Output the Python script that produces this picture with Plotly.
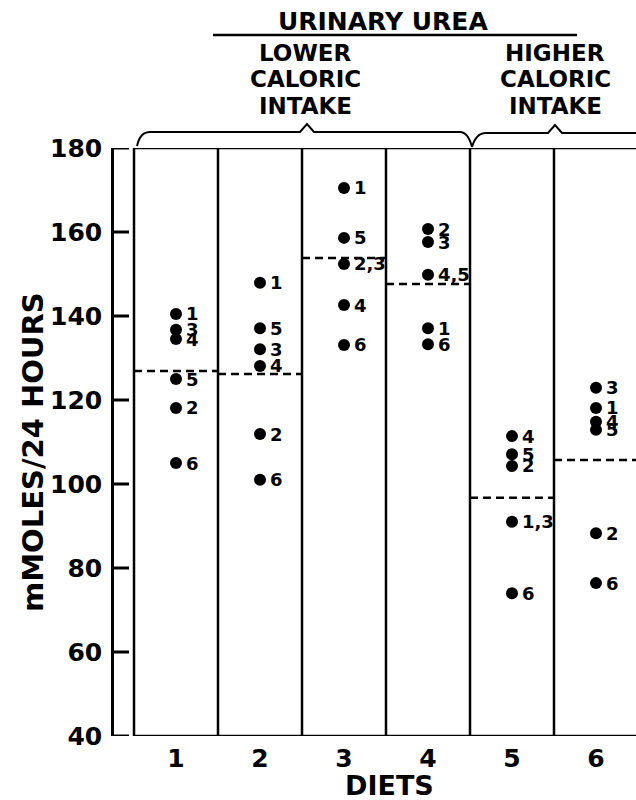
import plotly.graph_objects as go

# ---- data ----
diets = [1, 2, 3, 4, 5, 6]
subjects = ["1", "2", "3", "4", "5", "6"]
# urinary urea, mmoles/24 h, per diet, for subjects 1..6
diet1 = [140.5, 118.1, 136.7, 134.5, 125.0, 105.0]
diet2 = [147.9, 111.9, 132.1, 128.1, 137.1, 101.0]
diet3 = [170.5, 152.4, 152.4, 142.6, 158.6, 133.1]
diet4 = [137.1, 160.7, 157.6, 149.8, 149.8, 133.3]
diet5 = [91.0, 104.3, 91.0, 111.4, 107.1, 74.0]
diet6 = [118.1, 88.3, 122.9, 114.8, 112.9, 76.4]
diet_means = [126.9, 126.2, 153.8, 147.6, 96.7, 105.7]
y_ticks = [40, 60, 80, 100, 120, 140, 160, 180]
title = "URINARY UREA"
group_labels = ["LOWER", "CALORIC", "INTAKE"]
group_labels2 = ["HIGHER", "CALORIC", "INTAKE"]
y_title = "mMOLES/24 HOURS"
x_title = "DIETS"

all_diets = [diet1, diet2, diet3, diet4, diet5, diet6]

# ---- layout geometry ----
W, H = 636, 800
ML, MR, MT, MB = 114, 0, 148, 64
PW, PH = W - ML - MR, H - MT - MB
PXU = 84.0                      # pixels per diet unit
X0 = 0.5 - 20 / PXU
X1 = X0 + PW / PXU
FONT = "DejaVu Sans"


def F(size):
    return dict(family=FONT, size=size, color="black", weight="bold")


def pxx(x):
    return (x - ML) / PW


def pxy(y):
    return (MT + PH - y) / PH


fig = go.Figure()

# y-axis tick marks pointing inward from the axis line
tx, ty = [], []
for t in y_ticks:
    tx += [X0, X0 + 15 / PXU, None]
    ty += [t, t, None]
fig.add_trace(go.Scatter(x=tx, y=ty, mode="lines", line=dict(color="black", width=3),
                         showlegend=False, hoverinfo="skip", cliponaxis=False))

# dashed mean lines
for d, m in zip(diets, diet_means):
    fig.add_trace(go.Scatter(x=[d - 0.5, d + 0.5], y=[m, m], mode="lines",
                             line=dict(color="black", width=2.5, dash="8px,5px"),
                             showlegend=False, hoverinfo="skip"))

annotations = []
# dots + subject labels (coinciding values share one dot)
for d, vals in zip(diets, all_diets):
    groups = {}
    for s, v in zip(subjects, vals):
        groups.setdefault(v, []).append(s)
    ys = list(groups.keys())
    fig.add_trace(go.Scatter(x=[d] * len(ys), y=ys, mode="markers",
                             marker=dict(color="black", size=12),
                             showlegend=False, cliponaxis=False))
    for v, ss in groups.items():
        annotations.append(dict(x=d, y=v, xref="x", yref="y", text=",".join(ss),
                                showarrow=False, xanchor="left", yanchor="middle",
                                xshift=8, font=F(18)))

shapes = []
# box of columns
for b in [0.5, 1.5, 2.5, 3.5, 4.5, 5.5]:
    shapes.append(dict(type="line", xref="x", yref="y", x0=b, x1=b, y0=40, y1=180,
                       line=dict(color="black", width=2.5)))
for yy in [40, 180]:
    shapes.append(dict(type="line", xref="x", yref="y", x0=0.5, x1=X1, y0=yy, y1=yy,
                       line=dict(color="black", width=2.5)))

# braces
def P(x, y):
    return f"{pxx(x):.5f},{pxy(y):.5f}"

brace1 = (f"M {P(137,146)} Q {P(140,132)} {P(150,132)} L {P(300,132)} L {P(307,124)} "
          f"L {P(314,132)} L {P(460,132)} Q {P(468,132)} {P(472,147)}")
brace2 = (f"M {P(472,147)} Q {P(476,133)} {P(486,133)} L {P(548,133)} L {P(555,125)} "
          f"L {P(562,133)} L {P(640,133)}")
for p in [brace1, brace2]:
    shapes.append(dict(type="path", xref="paper", yref="paper", path=p,
                       line=dict(color="black", width=2)))
# title underline
shapes.append(dict(type="line", xref="paper", yref="paper", x0=pxx(213), x1=pxx(577),
                   y0=pxy(35), y1=pxy(35), line=dict(color="black", width=2.5)))

annotations.append(dict(x=pxx(383), y=pxy(21), xref="paper", yref="paper", text=title,
                        showarrow=False, xanchor="center", yanchor="middle", font=F(25)))
for txt, yc in zip(group_labels, [53, 79, 106]):
    annotations.append(dict(x=pxx(305), y=pxy(yc), xref="paper", yref="paper", text=txt,
                            showarrow=False, xanchor="center", yanchor="middle", font=F(23)))
for txt, yc in zip(group_labels2, [53, 79, 106]):
    annotations.append(dict(x=pxx(555), y=pxy(yc), xref="paper", yref="paper", text=txt,
                            showarrow=False, xanchor="center", yanchor="middle", font=F(23)))
annotations.append(dict(x=pxx(33), y=pxy(452), xref="paper", yref="paper", text=y_title,
                        showarrow=False, xanchor="center", yanchor="middle", textangle=-90,
                        font=F(29)))
annotations.append(dict(x=pxx(389), y=pxy(785), xref="paper", yref="paper", text=x_title,
                        showarrow=False, xanchor="center", yanchor="middle", font=F(27)))

fig.update_layout(
    width=W, height=H,
    margin=dict(l=ML, r=MR, t=MT, b=MB, pad=0),
    paper_bgcolor="white", plot_bgcolor="white",
    showlegend=False,
    shapes=shapes, annotations=annotations,
    xaxis=dict(range=[X0, X1], tickvals=diets, ticktext=[str(d) for d in diets],
               showgrid=False, zeroline=False, showline=False, ticks="",
               ticklabelstandoff=5, tickfont=F(25)),
    yaxis=dict(range=[40, 180], tickvals=y_ticks, showgrid=False, zeroline=False,
               showline=True, linecolor="black", linewidth=2.5,
               ticks="", ticklabelstandoff=4, tickfont=F(25)),
)

fig.write_html("out.html")
